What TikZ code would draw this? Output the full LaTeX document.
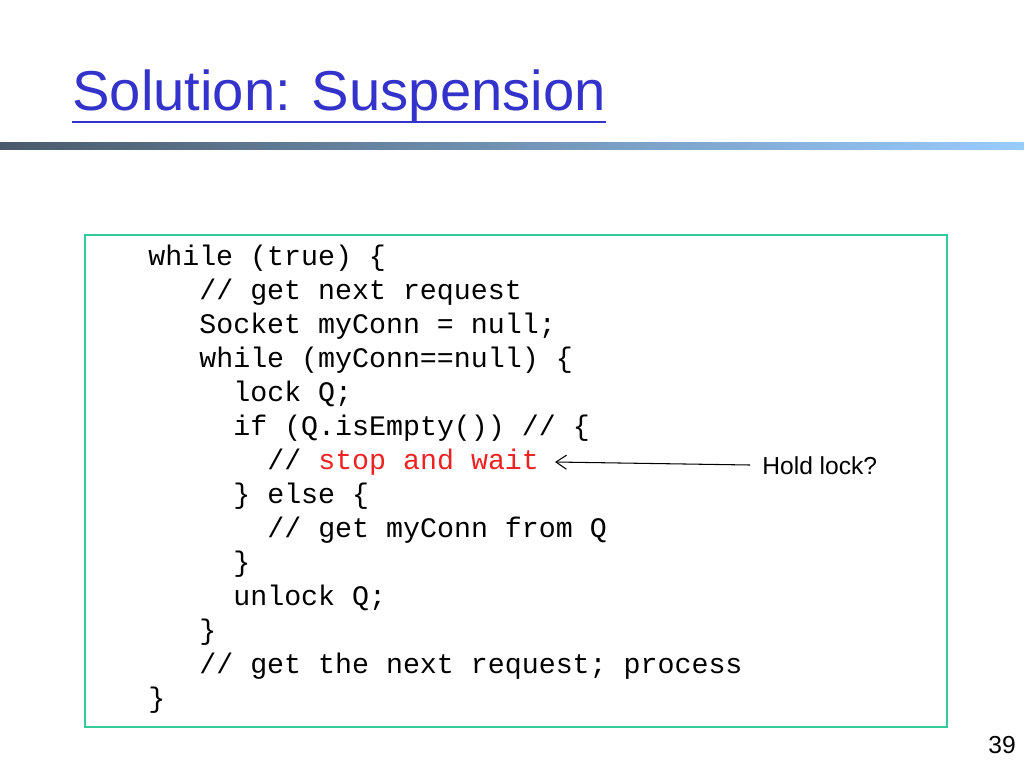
\documentclass[tikz,border=0pt]{standalone}
\usepackage{fontspec}
\setmainfont{Liberation Sans}
\setmonofont{Liberation Mono}
\usetikzlibrary{arrows.meta,positioning}
\definecolor{titleblue}{HTML}{3333CC}
\definecolor{boxgreen}{HTML}{33CC99}
\definecolor{barleft}{HTML}{4A5A6A}
\definecolor{barright}{HTML}{99CCFF}
\definecolor{codered}{HTML}{EE2222}
\tikzset{
  codeline/.style={anchor=base west,inner sep=0pt,font=\fontsize{16.1}{18}\selectfont\ttfamily},
  note/.style={anchor=base west,inner sep=0pt,font=\fontsize{14}{16}\selectfont},
}
\begin{document}
\begin{tikzpicture}[x=0.02cm,y=-0.02cm]
    \useasboundingbox (0,0) rectangle (1024,768);
    % title and bar
    \node[anchor=base west,inner sep=0pt,text=titleblue,font=\fontsize{32}{36}\selectfont] (title) at (72,110) {Solution: Suspension};
    \draw[titleblue,line width=0.8pt] (title.south west) -- (title.south east);
    \shade[left color=barleft,right color=barright] (0,142) rectangle (1024,149);
    % code box
    \draw[draw=boxgreen,line width=0.8pt] (85,235) rectangle (947,727);
    \node[codeline] (L1) at (148,265) {while (true) \{};
    \node[codeline] (L2) at (199,299) {// get next request};
    \node[codeline] (L3) at (199,333) {Socket myConn = null;};
    \node[codeline] (L4) at (199,367) {while (myConn==null) \{};
    \node[codeline] (L5) at (233,401) {lock Q;};
    \node[codeline] (L6) at (233,435) {if (Q.isEmpty()) // \{};
    \node[codeline] (L7) at (267,469) {// \textcolor{codered}{stop and wait}};
    \node[codeline] (L8) at (233,503) {\} else \{};
    \node[codeline] (L9) at (267,537) {// get myConn from Q};
    \node[codeline] (L10) at (233,571) {\}};
    \node[codeline] (L11) at (233,605) {unlock Q;};
    \node[codeline] (L12) at (199,639) {\}};
    \node[codeline] (L13) at (199,673) {// get the next request; process};
    \node[codeline] (L14) at (148,707) {\}};
    % annotation
    \node[note] (hold) at (762,474) {Hold lock?};
    \coordinate (tail) at (750,465);
    \coordinate (head) at (555,462);
    \draw[-{Straight Barb[length=6pt,width=8pt]},line width=0.6pt] (tail) -- (head);
    \node[note] (page) at (988,753) {39};
\end{tikzpicture}
\end{document}
